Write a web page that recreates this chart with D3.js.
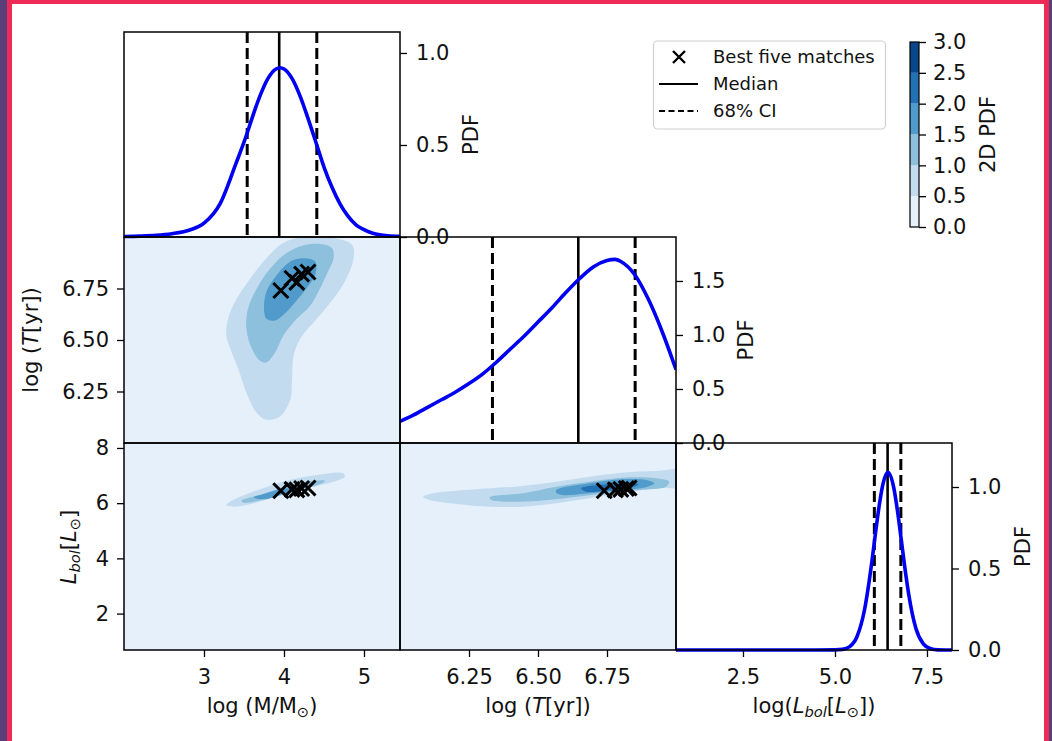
<!DOCTYPE html>
<html><head><meta charset="utf-8">
<script src="https://cdn.jsdelivr.net/npm/d3@7"></script>
<style>
body{margin:0;background:#fff;}
svg{display:block;font-family:"DejaVu Sans",sans-serif;}
</style></head><body>
<svg id="chart" width="1052" height="741"></svg>
<script>
// ---------------- data ----------------
const massGrid = [2.0,2.2,2.4,2.6,2.8,3.0,3.2,3.4,3.54,3.6,3.7,3.8,3.9,3.95,4.0,4.1,4.2,4.3,4.41,4.5,4.6,4.7,4.8,4.9,5.0,5.1,5.2,5.3,5.45];
const massPdf  = [0.003,0.005,0.009,0.018,0.035,0.075,0.18,0.40,0.565,0.645,0.767,0.862,0.913,0.92,0.913,0.862,0.767,0.645,0.50,0.38,0.27,0.18,0.113,0.066,0.040,0.022,0.012,0.007,0.004];
const ageGrid  = [6.00,6.05,6.10,6.15,6.20,6.25,6.30,6.35,6.40,6.45,6.50,6.55,6.60,6.65,6.70,6.75,6.78,6.80,6.85,6.90,6.95,7.00];
const agePdf   = [0.20,0.26,0.33,0.40,0.47,0.55,0.64,0.75,0.87,0.99,1.12,1.25,1.39,1.52,1.63,1.69,1.70,1.68,1.56,1.33,1.03,0.68];
const lumGrid  = [0.68,2.0,3.0,4.0,4.5,5.0,5.2,5.4,5.6,5.8,6.0,6.1,6.2,6.3,6.44,6.6,6.7,6.8,6.9,7.0,7.2,7.4,7.6,7.8,8.0,8.18];
const lumPdf   = [0,0,0,0,0,0.001,0.004,0.021,0.083,0.244,0.537,0.715,0.883,1.015,1.09,0.993,0.851,0.679,0.503,0.347,0.132,0.038,0.008,0.001,0,0];

const massMedian = 3.94, massCI = [3.54, 4.41];
const ageMedian  = 6.646, ageCI = [6.335, 6.852];
const lumMedian  = 6.43, lumCI = [6.07, 6.79];

const bestMass = [3.96, 4.10, 4.16, 4.22, 4.30];
const bestAge  = [6.74, 6.80, 6.78, 6.82, 6.83];
const bestLum  = [6.45, 6.50, 6.48, 6.53, 6.55];

// contour outlines (data units)
const mtLevel05 = [[4.20,6.998],[4.62,6.995],[4.85,6.962],[4.87,6.897],[4.78,6.799],[4.62,6.701],[4.41,6.603],[4.20,6.505],[4.12,6.423],[4.10,6.309],[4.08,6.211],[3.95,6.129],[3.78,6.113],[3.66,6.146],[3.53,6.244],[3.43,6.358],[3.33,6.456],[3.28,6.521],[3.30,6.603],[3.41,6.701],[3.58,6.799],[3.78,6.897],[3.99,6.971]];
const mtLevel10 = [[4.45,6.966],[4.60,6.946],[4.62,6.897],[4.55,6.832],[4.45,6.75],[4.33,6.668],[4.16,6.603],[3.99,6.521],[3.89,6.44],[3.78,6.391],[3.70,6.399],[3.60,6.456],[3.53,6.554],[3.55,6.652],[3.66,6.75],[3.83,6.848],[4.03,6.922],[4.24,6.959]];
const mtLevel15 = [[4.24,6.897],[4.39,6.881],[4.39,6.815],[4.28,6.75],[4.16,6.693],[4.03,6.636],[3.89,6.595],[3.78,6.603],[3.75,6.652],[3.78,6.734],[3.91,6.815],[4.08,6.881]];

const mlLevel05 = [[3.28,5.93],[3.37,6.12],[3.62,6.42],[3.99,6.78],[4.41,7.02],[4.74,7.08],[4.76,6.96],[4.62,6.78],[4.28,6.54],[3.91,6.23],[3.53,5.93],[3.37,5.87]];
const mlLevel10 = [[3.47,6.09],[3.70,6.30],[4.03,6.60],[4.37,6.81],[4.51,6.81],[4.45,6.69],[4.20,6.48],[3.87,6.23],[3.62,6.05],[3.49,6.02]];
const mlLevel15 = [[3.62,6.21],[3.78,6.36],[4.03,6.54],[4.12,6.48],[3.95,6.30],[3.74,6.14]];

const tlLevel05 = [[6.084,6.234],[6.12,6.357],[6.205,6.452],[6.325,6.539],[6.445,6.622],[6.566,6.778],[6.686,6.959],[6.806,7.104],[6.927,7.165],[7.03,7.17],[7.03,6.62],[6.927,6.539],[6.806,6.357],[6.686,6.176],[6.566,5.995],[6.445,5.872],[6.325,5.872],[6.205,5.97],[6.108,6.115]];
const tlLevel10 = [[6.325,6.213],[6.445,6.357],[6.566,6.597],[6.686,6.778],[6.806,6.923],[6.927,6.90],[6.975,6.778],[6.963,6.597],[6.866,6.477],[6.746,6.357],[6.626,6.213],[6.505,6.09],[6.385,6.053],[6.331,6.115]];
const tlLevel15 = [[6.566,6.477],[6.686,6.72],[6.806,6.866],[6.891,6.84],[6.921,6.72],[6.891,6.575],[6.806,6.477],[6.686,6.357],[6.59,6.296],[6.566,6.379]];
const tlLevel20 = [[6.656,6.539],[6.746,6.684],[6.83,6.742],[6.864,6.684],[6.83,6.539],[6.746,6.452],[6.674,6.416]];

const cbLevels = [0, 0.5, 1.0, 1.5, 2.0, 2.5, 3.0];
const legendLabels = ["Best five matches", "Median", "68% CI"];

// ---------------- layout ----------------
const svg = d3.select("#chart");
const FONT = 21;
const P = {L0:124, L1:400, L2:676, L3:952, T0:32, T1:237, T2:443, T3:650};

// page border
svg.append("rect").attr("x",0).attr("y",0).attr("width",1052).attr("height",741).attr("fill","#fff");
svg.append("rect").attr("x",7).attr("y",0).attr("width",1042).attr("height",4).attr("fill","#ee2a56");
svg.append("rect").attr("x",7).attr("y",0).attr("width",5).attr("height",741).attr("fill","#ee2a56");
svg.append("rect").attr("x",1044).attr("y",0).attr("width",5).attr("height",741).attr("fill","#ee2a56");
svg.append("rect").attr("x",0).attr("y",0).attr("width",7).attr("height",741).attr("fill","#593e7a");
svg.append("rect").attr("x",1049).attr("y",0).attr("width",3).attr("height",741).attr("fill","#593e7a");

// scales
const xM = d3.scaleLinear([2.0, 5.45], [P.L0, P.L1]);
const xT = d3.scaleLinear([6.0, 7.0], [P.L1, P.L2]);
const xL = d3.scaleLinear([0.68, 8.18], [P.L2, P.L3]);
const yT = d3.scaleLinear([6.0, 7.0], [P.T2, P.T1]);
const yL = d3.scaleLinear([0.68, 8.18], [P.T3, P.T2]);
const yPm = d3.scaleLinear([0, 1.114], [P.T1, P.T0]);
const yPt = d3.scaleLinear([0, 1.907], [P.T2, P.T1]);
const yPl = d3.scaleLinear([0, 1.27], [P.T3, P.T2]);

const blues = d3.scaleSequential(d3.interpolateBlues).domain([0, 3]);
const bandColor = i => blues((cbLevels[i] + cbLevels[i+1]) / 2);

const defs = svg.append("defs");
function clip(id, x0, y0, x1, y1){
  defs.append("clipPath").attr("id", id).append("rect")
    .attr("x", x0).attr("y", y0).attr("width", x1-x0).attr("height", y1-y0);
  return "url(#" + id + ")";
}

// ---------- 2D panels ----------
function panel2D(id, xs, ys, contours, bx, by){
  const [x0,x1] = xs.range(), [y1,y0] = ys.range();
  const g = svg.append("g").attr("clip-path", clip(id, x0, y0, x1, y1));
  g.append("rect").attr("x",x0).attr("y",y0).attr("width",x1-x0).attr("height",y1-y0).attr("fill", bandColor(0));
  const line = d3.line().x(d => xs(d[0])).y(d => ys(d[1])).curve(d3.curveCatmullRomClosed.alpha(0.5));
  contours.forEach((c, i) => {
    g.append("path").attr("d", line(c)).attr("fill", bandColor(i+1)).attr("stroke", "none");
  });
  const s = 7.5;
  bx.forEach((v, i) => {
    const cx = xs(v), cy = ys(by[i]);
    g.append("path").attr("d", `M${cx-s},${cy-s}L${cx+s},${cy+s}M${cx-s},${cy+s}L${cx+s},${cy-s}`)
      .attr("stroke","#000").attr("stroke-width",3).attr("fill","none");
  });
  return g;
}
panel2D("cMT", xM, yT, [mtLevel05, mtLevel10, mtLevel15], bestMass, bestAge);
panel2D("cML", xM, yL, [mlLevel05, mlLevel10, mlLevel15], bestMass, bestLum);
panel2D("cTL", xT, yL, [tlLevel05, tlLevel10, tlLevel15, tlLevel20], bestAge, bestLum);

// ---------- 1D PDF panels ----------
function panel1D(id, xs, ys, grid, pdf, med, ci){
  const [x0,x1] = xs.range(), [y1,y0] = ys.range();
  const g = svg.append("g").attr("clip-path", clip(id, x0, y0-2, x1, y1+2));
  [ci[0], ci[1]].forEach(v => g.append("line").attr("x1",xs(v)).attr("x2",xs(v)).attr("y1",y0).attr("y2",y1)
    .attr("stroke","#000").attr("stroke-width",3).attr("stroke-dasharray","11,5"));
  g.append("line").attr("x1",xs(med)).attr("x2",xs(med)).attr("y1",y0).attr("y2",y1)
    .attr("stroke","#000").attr("stroke-width",2.6);
  const line = d3.line().x((d,i) => xs(grid[i])).y(d => ys(d)).curve(d3.curveMonotoneX);
  g.append("path").attr("d", line(pdf)).attr("fill","none").attr("stroke","#0000f0").attr("stroke-width",3.6);
}
panel1D("cM", xM, yPm, massGrid, massPdf, massMedian, massCI);
panel1D("cT", xT, yPt, ageGrid, agePdf, ageMedian, ageCI);
panel1D("cL", xL, yPl, lumGrid, lumPdf, lumMedian, lumCI);

// ---------- axes ----------
function styleAxis(g){
  g.select(".domain").remove();
  g.selectAll(".tick line").attr("stroke","#000").attr("stroke-width",1.3);
  g.selectAll(".tick text").attr("fill","#111").style("font-size", FONT+"px").style("font-family","DejaVu Sans");
}
function rightAxis(ys, x, ticks){
  const g = svg.append("g").attr("transform",`translate(${x},0)`)
    .call(d3.axisRight(ys).tickValues(ticks).tickFormat(d3.format(".1f")).tickSize(7).tickPadding(9));
  styleAxis(g);
}
rightAxis(yPm, P.L1, [0, 0.5, 1.0]);
rightAxis(yPt, P.L2, [0, 0.5, 1.0, 1.5]);
rightAxis(yPl, P.L3, [0, 0.5, 1.0]);

function bottomAxis(xs, ticks, fmt){
  const g = svg.append("g").attr("transform",`translate(0,${P.T3})`)
    .call(d3.axisBottom(xs).tickValues(ticks).tickFormat(d3.format(fmt)).tickSize(7).tickPadding(12));
  styleAxis(g);
}
bottomAxis(xM, [3,4,5], "d");
bottomAxis(xT, [6.25,6.5,6.75], ".2f");
bottomAxis(xL, [2.5,5.0,7.5], ".1f");

function leftAxis(ys, ticks, fmt){
  const g = svg.append("g").attr("transform",`translate(${P.L0},0)`)
    .call(d3.axisLeft(ys).tickValues(ticks).tickFormat(d3.format(fmt)).tickSize(7).tickPadding(8));
  styleAxis(g);
}
leftAxis(yT, [6.25,6.5,6.75], ".2f");
leftAxis(yL, [2,4,6,8], "d");

// ---------- frames ----------
const frames = [[P.L0,P.T0,P.L1,P.T1],[P.L0,P.T1,P.L1,P.T2],[P.L1,P.T1,P.L2,P.T2],
                [P.L0,P.T2,P.L1,P.T3],[P.L1,P.T2,P.L2,P.T3],[P.L2,P.T2,P.L3,P.T3]];
frames.forEach(f => svg.append("rect").attr("x",f[0]).attr("y",f[1]).attr("width",f[2]-f[0]).attr("height",f[3]-f[1])
  .attr("fill","none").attr("stroke","#000").attr("stroke-width",1.5));

// ---------- axis labels ----------
function label(x, y, rot, parts, size){
  const t = svg.append("text").attr("transform",`translate(${x},${y}) rotate(${rot})`)
    .attr("text-anchor","middle").attr("fill","#111").style("font-size",(size||FONT)+"px");
  parts.forEach(p => {
    const s = t.append("tspan").text(p.t);
    if (p.i) s.style("font-style","italic");
    if (p.sub) s.attr("baseline-shift","-25%").style("font-size",((size||FONT)*0.7)+"px");
  });
  return t;
}
label(262, 713, 0, [{t:"log (M/M"},{t:"⊙",sub:1},{t:")"}]);
label(538, 713, 0, [{t:"log ("},{t:"T",i:1},{t:"[yr])"}]);
label(814, 713, 0, [{t:"log("},{t:"L",i:1},{t:"bol",i:1,sub:1},{t:"["},{t:"L",i:1},{t:"⊙",sub:1},{t:"])"}]);
label(38, 340, -90, [{t:"log ("},{t:"T",i:1},{t:"[yr])"}]);
label(76, 547, -90, [{t:"L",i:1},{t:"bol",i:1,sub:1},{t:"["},{t:"L",i:1},{t:"⊙",sub:1},{t:"]"}]);
label(478, 134.5, -90, [{t:"PDF"}]);
label(753, 340, -90, [{t:"PDF"}]);
label(1030, 546.5, -90, [{t:"PDF"}]);

// ---------- legend ----------
const lg = svg.append("g");
lg.append("rect").attr("x",653.5).attr("y",41).attr("width",232).attr("height",88).attr("rx",4)
  .attr("fill","#fff").attr("fill-opacity",0.8).attr("stroke","#d0d0d0").attr("stroke-width",1.2);
const lgY = [57, 84, 111];
legendLabels.forEach((t, i) => {
  lg.append("text").attr("x",713).attr("y",lgY[i]).attr("dy","0.35em").attr("fill","#111")
    .style("font-size","18px").text(t);
});
{
  const cx = 679, cy = lgY[0], s = 6;
  lg.append("path").attr("d",`M${cx-s},${cy-s}L${cx+s},${cy+s}M${cx-s},${cy+s}L${cx+s},${cy-s}`)
    .attr("stroke","#000").attr("stroke-width",2.4);
  lg.append("line").attr("x1",659).attr("x2",698).attr("y1",lgY[1]).attr("y2",lgY[1]).attr("stroke","#000").attr("stroke-width",2);
  lg.append("line").attr("x1",659).attr("x2",698).attr("y1",lgY[2]).attr("y2",lgY[2]).attr("stroke","#000").attr("stroke-width",2).attr("stroke-dasharray","6,3.5");
}

// ---------- colorbar ----------
const cbY = d3.scaleLinear([0, 3], [227, 42]);
const cbX = 910, cbW = 9;
const cb = svg.append("g");
cbLevels.slice(0,-1).forEach((v, i) => {
  cb.append("rect").attr("x",cbX).attr("y",cbY(cbLevels[i+1])).attr("width",cbW)
    .attr("height",cbY(cbLevels[i]) - cbY(cbLevels[i+1])).attr("fill",bandColor(i));
});
cb.append("rect").attr("x",cbX).attr("y",cbY(3)).attr("width",cbW).attr("height",cbY(0)-cbY(3))
  .attr("fill","none").attr("stroke","#000").attr("stroke-width",1.2);
const cbAxis = svg.append("g").attr("transform",`translate(${cbX+cbW},0)`)
  .call(d3.axisRight(cbY).tickValues(cbLevels).tickFormat(d3.format(".1f")).tickSize(7).tickPadding(7));
styleAxis(cbAxis);
label(995, 134.5, -90, [{t:"2D PDF"}]);
</script></body></html>
